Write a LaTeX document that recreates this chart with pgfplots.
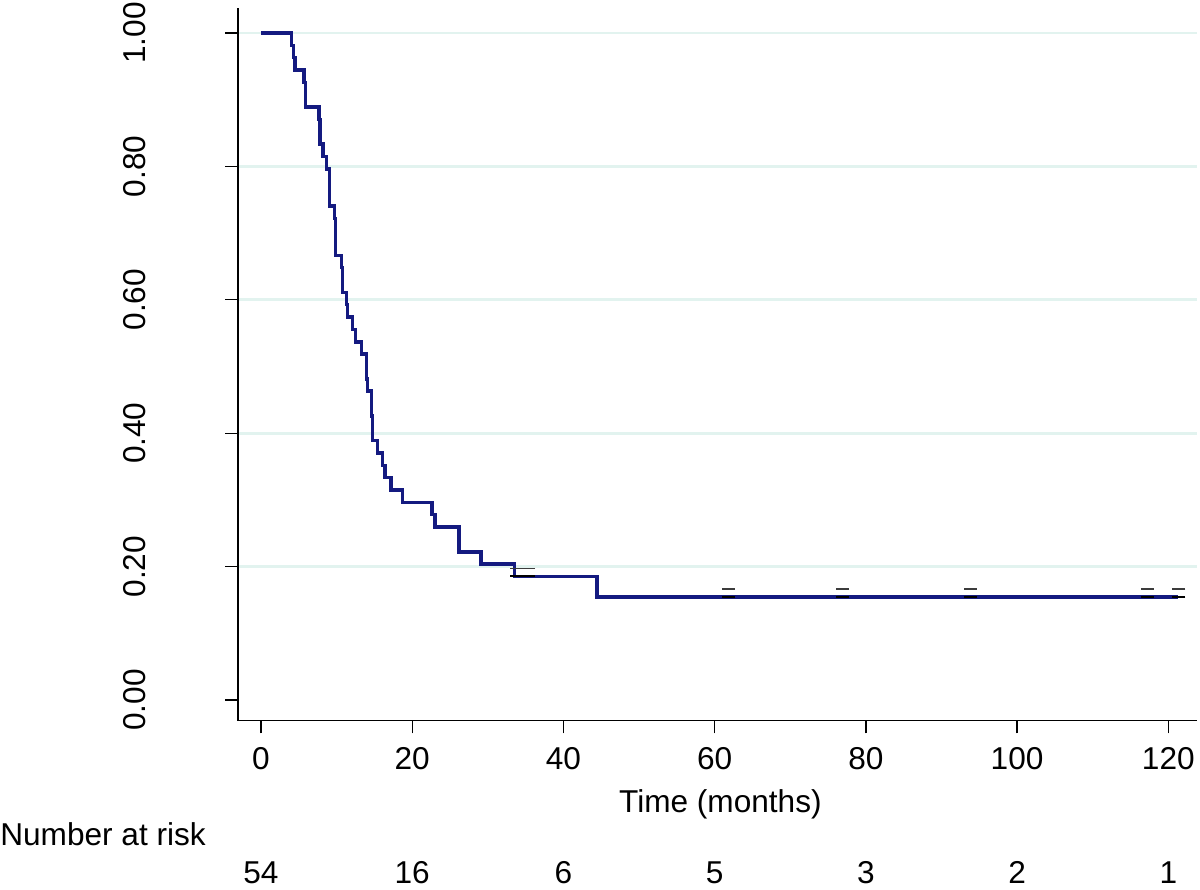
\documentclass[border=0pt]{standalone}
\usepackage{pgfplots}
\pgfplotsset{compat=1.18}
\usepackage{fontspec}
\setmainfont{Liberation Sans}
\definecolor{kmblue}{RGB}{20,26,128}
\definecolor{gridc}{RGB}{226,243,239}
\definecolor{censc}{RGB}{60,60,60}
\newcommand{\fs}{\fontsize{15.8bp}{18bp}\selectfont}
\begin{document}
\begin{tikzpicture}[x=1bp,y=1bp]
\path[use as bounding box] (0,0) rectangle (600,445);
\begin{axis}[
  at={(119bp,84.65bp)}, anchor=south west,
  scale only axis, width=479.5bp, height=356.35bp,
  xmin=-3.04, xmax=123.8, ymin=-0.031, ymax=1.0375,
  axis x line*=bottom, axis y line*=left,
  axis line style={line width=0.7bp, black},
  tick align=outside, major tick length=6.4bp,
  tick style={line width=0.7bp, black},
  xtick={0,20,40,60,80,100,120},
  ytick={0.2,0.4,0.6,0.8,1.0},
  extra y ticks={0}, extra y tick style={grid=none},
  ymajorgrids, grid style={gridc, line width=1.3bp},
  /pgf/number format/assume math mode=true,
  tick label style={font=\fs},
  yticklabel style={xshift=-40bp, rotate=90, anchor=base, inner sep=0pt,
    /pgf/number format/fixed, /pgf/number format/fixed zerofill,
    /pgf/number format/precision=2},
  xticklabel style={anchor=north, inner sep=0pt, yshift=-7bp},
  xlabel={Time (months)},
  xlabel style={font=\fs, at={(axis description cs:0.503,-0.1295)}, anchor=base, inner sep=0pt},
  clip=false,
]
\addplot[kmblue, line width=1.7bp, const plot] coordinates {
(0,1) (4.01,0.9815) (4.27,0.9630) (4.50,0.9444) (5.69,0.9259) (5.86,0.8889)
(7.67,0.8704) (7.81,0.8333) (8.20,0.8148) (8.69,0.7963) (9.04,0.7407)
(9.70,0.7222) (9.88,0.6667) (10.68,0.6481) (10.76,0.6111) (11.34,0.5926)
(11.47,0.5741) (12.13,0.5556) (12.53,0.5370) (13.32,0.5185) (13.99,0.4815)
(14.12,0.4630) (14.65,0.4259) (14.73,0.3889) (15.44,0.3704) (16.05,0.3519)
(16.41,0.3333) (17.20,0.3148) (18.70,0.2963) (22.62,0.2778) (23.02,0.2593)
(26.20,0.2222) (29.10,0.2037) (33.51,0.1852) (44.42,0.1543) (121.3,0.1543)
};
\addplot[only marks, mark=-, mark size=3.3bp, censc, mark options={line width=0.6bp}] coordinates {
(33.8,0.1972) (34.4,0.1972) (35.0,0.1972) (35.4,0.1972)
(61.8,0.1663) (76.9,0.1663) (93.8,0.1663) (117.2,0.1663) (121.4,0.1663)
};
\addplot[only marks, mark=-, mark size=3.3bp, black, mark options={line width=1bp}] coordinates {
(33.8,0.1852) (34.4,0.1852) (35.0,0.1852) (35.4,0.1852)
(61.8,0.1543) (76.9,0.1543) (93.8,0.1543) (117.2,0.1543) (121.4,0.1543)
};
\node[anchor=base west, inner sep=0pt, font=\fs] at (axis cs:-34.53,-0.2174) {Number at risk};
\node[anchor=base, inner sep=0pt, font=\fs] at (axis cs:0,-0.2744) {54};
\node[anchor=base, inner sep=0pt, font=\fs] at (axis cs:20,-0.2744) {16};
\node[anchor=base, inner sep=0pt, font=\fs] at (axis cs:40,-0.2744) {6};
\node[anchor=base, inner sep=0pt, font=\fs] at (axis cs:60,-0.2744) {5};
\node[anchor=base, inner sep=0pt, font=\fs] at (axis cs:80,-0.2744) {3};
\node[anchor=base, inner sep=0pt, font=\fs] at (axis cs:100,-0.2744) {2};
\node[anchor=base, inner sep=0pt, font=\fs] at (axis cs:120,-0.2744) {1};
\end{axis}
\end{tikzpicture}
\end{document}
